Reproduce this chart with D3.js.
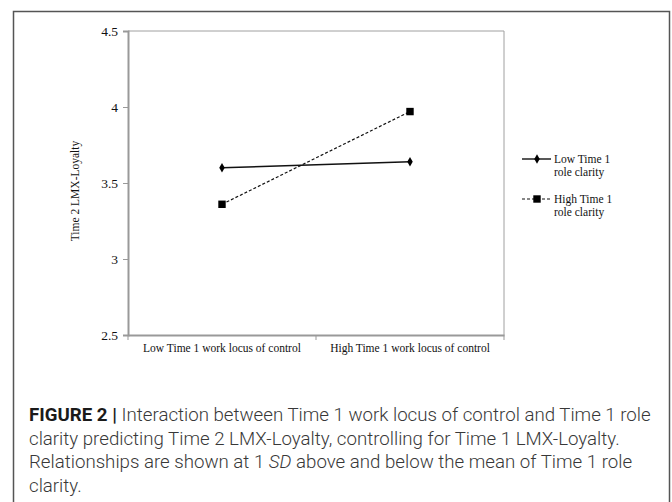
<!DOCTYPE html>
<html>
<head>
<meta charset="utf-8">
<script src="https://cdn.jsdelivr.net/npm/d3@7"></script>
<style>
  body { margin: 0; background: #fff; }
  svg { display: block; }
</style>
</head>
<body>
<svg id="chart" width="672" height="502"></svg>
<script>
// ---- data ----
const categories = ["Low Time 1 work locus of control", "High Time 1 work locus of control"];
const seriesNames = ["Low Time 1 role clarity", "High Time 1 role clarity"];
const lowClarity = [3.60, 3.64];
const highClarity = [3.36, 3.97];
const yTicks = [2.5, 3, 3.5, 4, 4.5];
const yTitle = "Time 2 LMX-Loyalty";
const legendLines = [["Low Time 1", "role clarity"], ["High Time 1", "role clarity"]];
const captionLines = [
  [{t: "FIGURE 2 | ", b: true}, {t: "Interaction between Time 1 work locus of control and Time 1 role"}],
  [{t: "clarity predicting Time 2 LMX-Loyalty, controlling for Time 1 LMX-Loyalty."}],
  [{t: "Relationships are shown at 1 "}, {t: "SD", i: true}, {t: " above and below the mean of Time 1 role"}],
  [{t: "clarity."}]
];

const svg = d3.select("#chart");

// outer frame
svg.append("rect")
  .attr("x", 13.5).attr("y", 11.5).attr("width", 656).attr("height", 500)
  .attr("fill", "none").attr("stroke", "#555").attr("stroke-width", 1.5);

const plot = {left: 128, right: 504, top: 31, bottom: 335};

const x = d3.scaleBand().domain(categories).range([plot.left, plot.right]);
const y = d3.scaleLinear().domain([2.5, 4.5]).range([plot.bottom, plot.top]);

const serif = "'Liberation Serif', 'Times New Roman', serif";

// plot border top & right
svg.append("path")
  .attr("d", `M${plot.left},${plot.top}H${plot.right}V${plot.bottom}`)
  .attr("fill", "none").attr("stroke", "#a0a0a0").attr("stroke-width", 1);

// y axis
const yAxis = svg.append("g")
  .attr("transform", `translate(${plot.left},0)`)
  .call(d3.axisLeft(y).tickValues(yTicks).tickSize(5).tickPadding(5).tickFormat(d => String(d)));
yAxis.select(".domain").attr("stroke", "#999").attr("stroke-width", 2);
yAxis.selectAll(".tick line").attr("stroke", "#999");
yAxis.selectAll(".tick text").attr("font-family", serif).attr("font-size", 13.5).attr("fill", "#111");

// x axis labels
const xAxis = svg.append("g")
  .attr("transform", `translate(0,${plot.bottom})`)
  .call(d3.axisBottom(x).tickSize(0).tickPadding(9));
xAxis.select(".domain").attr("stroke", "#999").attr("stroke-width", 2);
xAxis.selectAll(".tick text").attr("font-family", serif).attr("font-size", 11.5).attr("fill", "#111");
// boundary ticks
const bounds = d3.range(categories.length + 1).map(i => x.range()[0] + i * x.step());
xAxis.selectAll(".btick").data(bounds).enter().append("line")
  .attr("x1", d => d).attr("x2", d => d).attr("y1", 0).attr("y2", 5)
  .attr("stroke", "#999");

// y title
svg.append("text")
  .attr("transform", `translate(79,${(plot.top + plot.bottom) / 2 + 8}) rotate(-90)`)
  .attr("text-anchor", "middle")
  .attr("font-family", serif).attr("font-size", 11.5).attr("fill", "#111")
  .text(yTitle);

const cx = d => x(d) + x.bandwidth() / 2;
const series = [
  {name: seriesNames[0], values: lowClarity, dash: null, width: 1.4, sym: d3.symbolDiamond, size: 26},
  {name: seriesNames[1], values: highClarity, dash: "3,2", width: 1.2, sym: d3.symbolSquare, size: 55}
];

const line = d3.line().x((v, i) => cx(categories[i])).y(v => y(v));
series.forEach(s => {
  svg.append("path")
    .attr("d", line(s.values))
    .attr("fill", "none").attr("stroke", "#111")
    .attr("stroke-width", s.width)
    .attr("stroke-dasharray", s.dash);
  svg.selectAll(null).data(s.values).enter().append("path")
    .attr("d", d3.symbol().type(s.sym).size(s.size))
    .attr("transform", (v, i) => `translate(${cx(categories[i])},${y(v)})`)
    .attr("fill", "#000");
});

// legend
const legY = [159, 199];
series.forEach((s, k) => {
  const g = svg.append("g").attr("transform", `translate(522,${legY[k]})`);
  g.append("line").attr("x1", 0).attr("x2", 29).attr("y1", 0).attr("y2", 0)
    .attr("stroke", "#111").attr("stroke-width", s.width).attr("stroke-dasharray", s.dash);
  g.append("path").attr("d", d3.symbol().type(s.sym).size(s.size)).attr("transform", "translate(15,0)");
  legendLines[k].forEach((t, j) => {
    g.append("text").attr("x", 32).attr("y", 4 + j * 13)
      .attr("font-family", serif).attr("font-size", 11.5).attr("fill", "#111")
      .text(t);
  });
});

// caption
const capFont = "Roboto, 'Liberation Sans', sans-serif";
const capTexts = captionLines.map((ln, j) => {
  const t = svg.append("text")
    .attr("x", 29).attr("y", 421 + j * 23.5)
    .attr("font-family", capFont).attr("font-size", 16);
  ln.forEach(seg => {
    t.append("tspan").text(seg.t)
      .attr("font-weight", seg.b ? 700 : 300)
      .attr("fill", seg.b ? "#1a1a1a" : "#383838")
      .attr("font-style", seg.i ? "italic" : "normal");
  });
  return t;
});
// fit first caption line to the measured width of the original (~622px)
const w0 = capTexts[0].node().getComputedTextLength();
const capSize = 16 * 622 / w0;
capTexts.forEach(t => t.attr("font-size", capSize));
</script>
</body>
</html>
